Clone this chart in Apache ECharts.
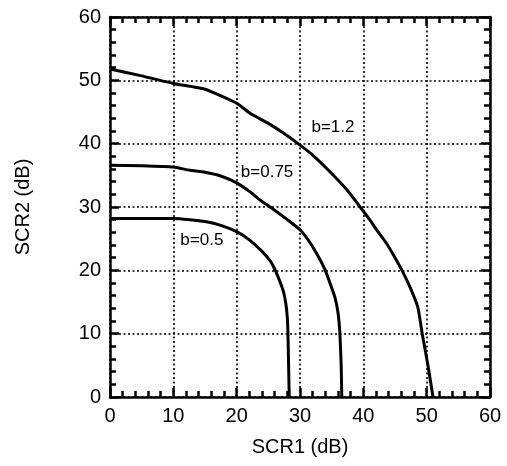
<!DOCTYPE html>
<html>
<head>
<meta charset="utf-8">
<script src="https://cdn.jsdelivr.net/npm/echarts@6/dist/echarts.min.js"></script>
<style>
html,body{margin:0;padding:0;background:#fff;}
#chart{width:507px;height:466px;}
</style>
</head>
<body>
<div id="chart"></div>
<script>
// Data: [SCR1 (dB), SCR2 (dB)]
const curveB05 = [[0,28.2],[5,28.2],[10,28.2],[12.6,28.0],[15,27.7],[17.5,27.1],[20,26.1],[22,24.8],[24,23.0],[25.3,21.5],[26.1,20],[26.8,18.3],[27.4,16.6],[27.8,14.5],[28.0,12.5],[28.1,10],[28.2,5],[28.3,0]];
const curveB075 = [[0,36.6],[5,36.5],[10,36.3],[12.6,35.8],[15,35.5],[17.5,34.9],[20,33.8],[22.1,32.4],[23.7,31.1],[26,29.5],[28,28.0],[30,26.4],[31.5,24.5],[33,22],[34,20],[34.8,17.8],[35.5,15.8],[36.0,13.3],[36.3,10],[36.5,5],[36.6,0]];
const curveB12 = [[0,51.8],[5,50.7],[10,49.5],[15,48.6],[20,46.4],[22.1,44.8],[25,43.2],[27.5,41.6],[29.7,40],[32,38.2],[35,35.3],[37.5,32.6],[39.5,30],[41,28],[42.1,26.4],[43.7,24.2],[45,22],[46.1,20],[47.3,17.5],[48.6,14.2],[49.3,10],[50.2,5],[51,0]];
const curveNames = ['b=0.5','b=0.75','b=1.2'];
const labelPositions = [[14.5,24.8],[24.8,35.4],[35.2,42.6]];
const axisMin = 0, axisMax = 60, axisStep = 10;
const xTitle = 'SCR1 (dB)', yTitle = 'SCR2 (dB)';

const FONT = '"Liberation Sans", Arial, Helvetica, sans-serif';
const chart = echarts.init(document.getElementById('chart'), null, {renderer:'canvas'});

function axisCommon(showLabels, showSplit) {
  return {
    type: 'value', min: axisMin, max: axisMax, interval: axisStep,
    axisLine: {show: true, onZero: false, lineStyle: {color: '#000', width: 2.5}},
    axisTick: {show: true, inside: true, length: 9, lineStyle: {color: '#000', width: 2.5}},
    minorTick: {show: true, splitNumber: 5, length: 6, lineStyle: {color: '#000', width: 2.5}},
    axisLabel: {show: showLabels, color: '#000', fontSize: 20, fontFamily: FONT, margin: 9},
    splitLine: {show: showSplit, lineStyle: {color: '#000', width: 1.6, type: [2, 2.5]}},
    minorSplitLine: {show: false}
  };
}

const curves = [curveB05, curveB075, curveB12];
const series = curves.map((d, i) => ({
  type: 'line', name: curveNames[i], data: d, showSymbol: false, symbol: 'none',
  smooth: 0.15, lineStyle: {color: '#000', width: 3}, z: 5
}));
series.push({
  type: 'scatter', data: labelPositions.map((p, i) => ({value: p, name: curveNames[i]})),
  symbolSize: 0, z: 6, silent: true,
  label: {show: true, position: 'inside', formatter: p => p.name, color: '#000',
          fontSize: 17, fontFamily: FONT, opacity: 1, textBorderWidth: 0}
});

chart.setOption({
  animation: false,
  backgroundColor: '#fff',
  grid: {left: 110, right: 17, top: 17, bottom: 69, containLabel: false},
  xAxis: [
    Object.assign(axisCommon(true, true), {position: 'bottom', name: xTitle, nameLocation: 'middle', nameGap: 40,
      nameTextStyle: {color: '#000', fontSize: 20, fontFamily: FONT}}),
    Object.assign(axisCommon(false, false), {position: 'top'})
  ],
  yAxis: [
    Object.assign(axisCommon(true, true), {position: 'left', name: yTitle, nameLocation: 'middle', nameGap: 77,
      nameTextStyle: {color: '#000', fontSize: 20, fontFamily: FONT}}),
    Object.assign(axisCommon(false, false), {position: 'right'})
  ],
  series: series
});
</script>
</body>
</html>
